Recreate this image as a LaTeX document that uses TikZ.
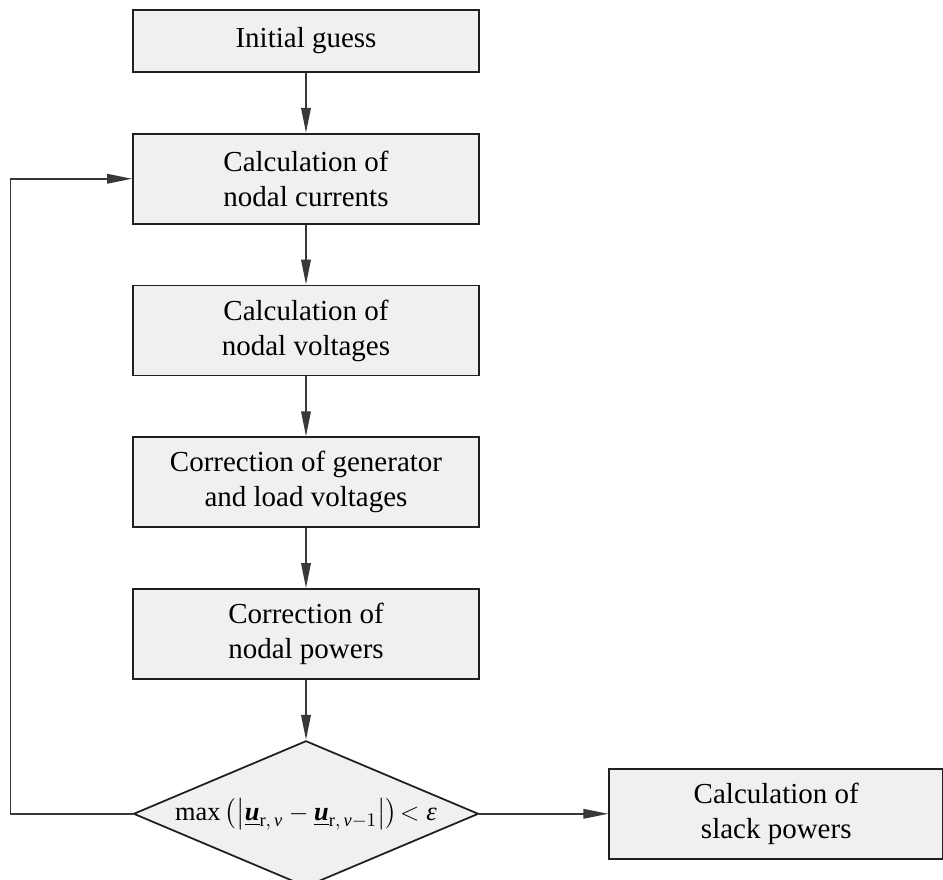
\documentclass[tikz,border=0pt]{standalone}
\usepackage{amsmath}
\usepackage{fontspec}
\setmainfont{Liberation Serif}
\usepackage{xcolor}
\usepackage{tikz}
\usetikzlibrary{arrows.meta,positioning,shapes.geometric}
\definecolor{boxgray}{rgb}{0.94,0.94,0.94}
\definecolor{linegray}{rgb}{0.22,0.22,0.22}

\begin{document}
\begin{tikzpicture}[font=\fontsize{16.5}{20}\selectfont,node distance=12mm,
   b/.style={draw=black!88,line width=1pt,fill=boxgray,minimum width=6.92cm,
             minimum height=1.8cm,align=center,inner sep=2pt},
   d/.style={draw=black!88,line width=1pt,fill=boxgray,diamond,shape aspect=2.36,
             minimum width=6.9cm,minimum height=2.92cm,inner sep=0pt,
             font=\fontsize{15}{18}\selectfont},
   arr/.style={-{Triangle[length=5mm,width=1.9mm]},line width=1pt,draw=linegray}]
  \useasboundingbox (0,0) rectangle (18.86,-17.58);
  \node[b,minimum height=1.24cm] (init) at (6.12,-0.82) {Initial guess};
  \node[b,below=of init] (curr) {Calculation of\\nodal currents};
  \node[b,below=of curr] (volt) {Calculation of\\nodal voltages};
  \node[b,below=of volt] (corr) {Correction of generator\\and load voltages};
  \node[b,below=of corr] (pow) {Correction of\\nodal powers};
  % formula smashed so the diamond keeps its size
  \node[d,below=of pow] (dia) {\smash{\raisebox{-0.25em}{$\text{max}\,\bigl(\bigl|\underline{\textbf{\textit{u}}}_{\text{r},\,\textit{ν}}
     -\underline{\textbf{\textit{u}}}_{\text{r},\,\textit{ν}-1}\bigr|\bigr)\!<\textit{ε}$}}};
  \node[b,minimum width=6.68cm,right=2.58cm of dia] (slack) {Calculation of\\slack powers};
  \coordinate[left=2.44cm of dia.west] (back);
  \draw[arr] (init)--(curr);
  \draw[arr] (curr)--(volt);
  \draw[arr] (volt)--(corr);
  \draw[arr] (corr)--(pow);
  \draw[arr] (pow)--(dia);
  \draw[arr] (dia)--(slack);
  \draw[arr] (dia.west)--(back)|-(curr.west);
\end{tikzpicture}
\end{document}
